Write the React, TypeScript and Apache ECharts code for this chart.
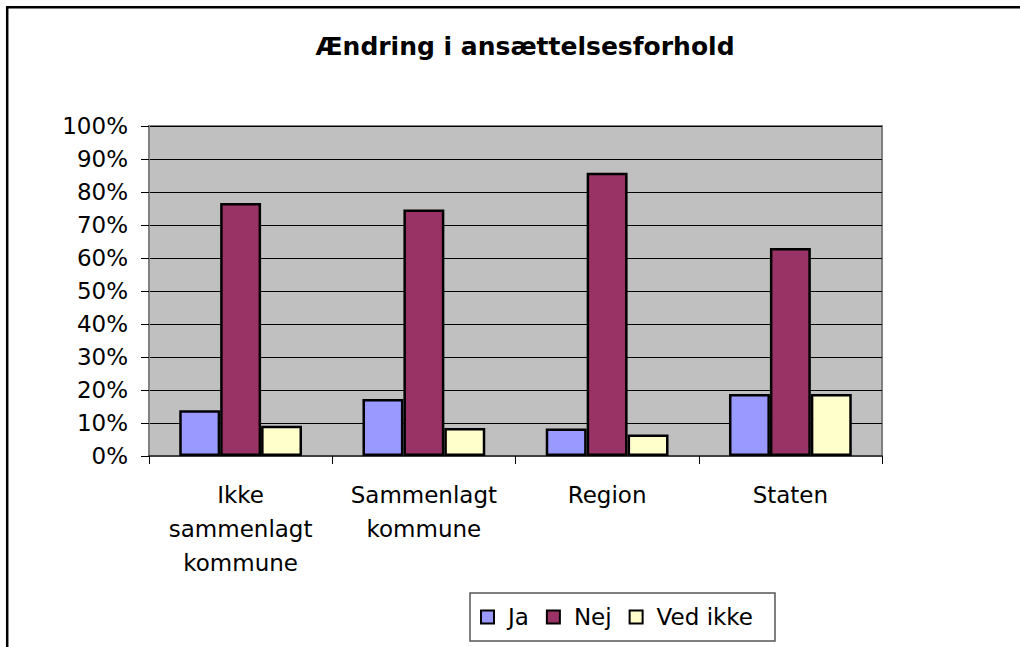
import React, { useEffect, useRef } from "react";
import * as echarts from "echarts";

const categories = ["Ikke\nsammenlagt\nkommune", "Sammenlagt\nkommune", "Region", "Staten"];
const seriesNames = ["Ja", "Nej", "Ved ikke"];
const jaValues = [13.9, 17.3, 8.3, 18.8];
const nejValues = [76.7, 74.7, 85.8, 63.0];
const vedIkkeValues = [9.2, 8.5, 6.5, 18.8];
const seriesColors = ["#9999FF", "#993366", "#FFFFCC"];
const titleText = "Ændring i ansættelsesforhold";

const FONT = "'DejaVu Sans', 'Liberation Sans', Arial, sans-serif";

export default function App() {
  const ref = useRef<HTMLDivElement>(null);
  useEffect(() => {
    if (!ref.current) return;
    const chart = echarts.init(ref.current, undefined, { renderer: "svg" });
    const values = [jaValues, nejValues, vedIkkeValues];
    chart.setOption({
      animation: false,
      backgroundColor: "#ffffff",
      title: {
        text: titleText,
        left: 520,
        top: 29,
        textAlign: "center",
        textStyle: { fontFamily: FONT, fontSize: 25, fontWeight: "bold", color: "#000" },
      },
      graphic: [
        {
          type: "rect",
          silent: true,
          shape: { x: 7.2, y: 7.2, width: 1300, height: 1000 },
          style: { fill: "none", stroke: "#000", lineWidth: 2.5 },
        },
      ],
      legend: {
        left: 470,
        top: 593,
        orient: "horizontal",
        itemWidth: 13,
        itemHeight: 13,
        itemGap: 17,
        padding: [12, 22, 12, 10],
        borderColor: "#555",
        borderWidth: 1.5,
        backgroundColor: "#fff",
        icon: "rect",
        textStyle: { fontFamily: FONT, fontSize: 23, color: "#000", lineHeight: 24, padding: [0, 0, 0, 9] },
        data: seriesNames,
      },
      grid: {
        left: 149,
        right: 138,
        top: 126,
        bottom: 191,
        show: true,
        backgroundColor: "#C0C0C0",
        borderColor: "#808080",
        borderWidth: 2,
        containLabel: false,
      },
      xAxis: {
        type: "category",
        data: categories,
        axisLine: { show: true, lineStyle: { color: "#404040", width: 2 } },
        axisTick: { show: true, length: 8, lineStyle: { color: "#000", width: 1 } },
        axisLabel: {
          fontFamily: FONT,
          fontSize: 23,
          color: "#000",
          margin: 22,
          lineHeight: 34,
          interval: 0,
        },
        splitLine: { show: false },
      },
      yAxis: {
        type: "value",
        min: 0,
        max: 100,
        interval: 10,
        axisLine: { show: true, lineStyle: { color: "#808080", width: 2 } },
        axisTick: { show: true, length: 8, lineStyle: { color: "#000", width: 1 } },
        axisLabel: {
          fontFamily: FONT,
          fontSize: 23,
          color: "#000",
          margin: 21,
          formatter: "{value}%",
        },
        splitLine: { show: true, lineStyle: { color: "#000", width: 1 } },
      },
      series: seriesNames.map((name, i) => ({
        name,
        type: "bar",
        data: values[i],
        barGap: "0%",
        barCategoryGap: "33%",
        itemStyle: { color: seriesColors[i], borderColor: "#000", borderWidth: 2.5 },
      })),
    });
    return () => chart.dispose();
  }, []);
  return (
    <div
      ref={ref}
      style={{ position: "absolute", left: 0, top: 0, width: 1020, height: 647, background: "#fff" }}
    />
  );
}
